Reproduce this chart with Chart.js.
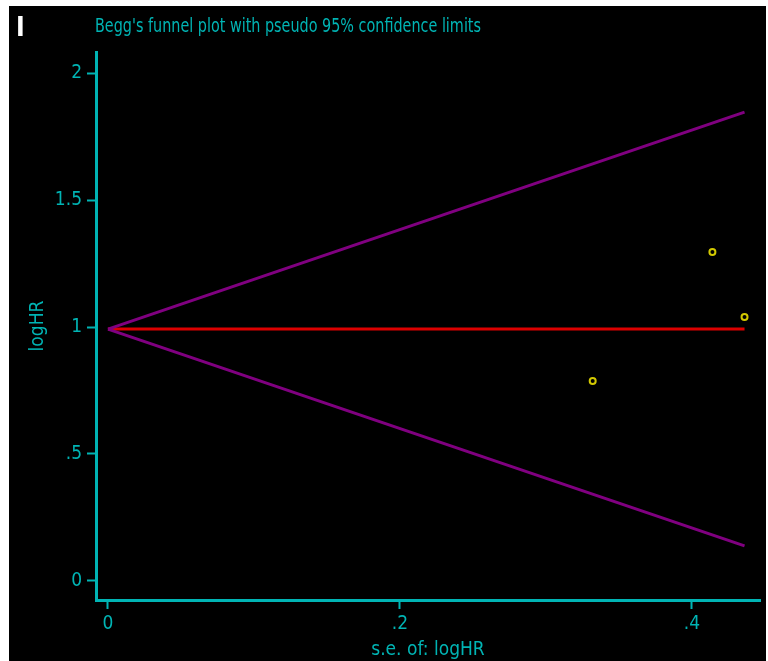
<!DOCTYPE html>
<html>
<head>
<meta charset="utf-8">
<script src="https://cdn.jsdelivr.net/npm/chart.js@4"></script>
<style>
  html, body { margin: 0; padding: 0; background: #fff; }
  #wrap { width: 768px; height: 661px; position: relative; }
</style>
</head>
<body>
<div id="wrap"><canvas id="funnel" width="768" height="661"></canvas></div>
<script>
// Studies: standard error of logHR and logHR
const seValues = [0.332, 0.414, 0.436];
const logHRValues = [0.787, 1.295, 1.039];

// Pooled estimate and pseudo 95% limits (endpoints)
const limitSE = [0, 0.436];
const pooledLine = [0.992, 0.992];
const upperLimit = [0.992, 1.846];
const lowerLimit = [0.992, 0.138];

// Tick labels
const xTickValues = [0, 0.2, 0.4];
const xTickLabels = ['0', '.2', '.4'];
const yTickValues = [0, 0.5, 1, 1.5, 2];
const yTickLabels = ['0', '.5', '1', '1.5', '2'];

const cyan = 'rgb(0,180,180)';
const fontFamily = "'Liberation Sans Narrow', 'DejaVu Sans Condensed', 'Arial Narrow', sans-serif";

const toPoints = (xs, ys) => xs.map((x, i) => ({ x: x, y: ys[i] }));

// Black panel, title and panel letter
const frame = {
    id: 'frame',
    beforeDraw(chart) {
        const ctx = chart.ctx;
        ctx.save();
        ctx.fillStyle = '#fff';
        ctx.fillRect(0, 0, chart.width, chart.height);
        ctx.fillStyle = '#000';
        ctx.fillRect(9, 6, 757, 655);
        ctx.restore();
    },
    afterDraw(chart) {
        const ctx = chart.ctx;
        const title = "Begg's funnel plot with pseudo 95% confidence limits";
        ctx.save();
        ctx.textBaseline = 'alphabetic';
        ctx.fillStyle = cyan;
        ctx.font = '19px ' + fontFamily;
        // squeeze the title to the narrow width of the original
        const w = ctx.measureText(title).width;
        ctx.translate(95, 32);
        ctx.scale(386 / w, 1);
        ctx.fillText(title, 0, 0);
        ctx.restore();

        ctx.save();
        ctx.fillStyle = '#fff';
        ctx.font = 'bold 26px ' + fontFamily;
        ctx.fillText('I', 16, 36);
        ctx.restore();
    }
};

new Chart(document.getElementById('funnel').getContext('2d'), {
    type: 'scatter',
    data: {
        datasets: [
            {
                label: 'upper',
                type: 'line',
                data: toPoints(limitSE, upperLimit),
                borderColor: 'rgb(128,0,128)',
                borderWidth: 3,
                pointRadius: 0
            },
            {
                label: 'lower',
                type: 'line',
                data: toPoints(limitSE, lowerLimit),
                borderColor: 'rgb(128,0,128)',
                borderWidth: 3,
                pointRadius: 0
            },
            {
                label: 'pooled',
                type: 'line',
                data: toPoints(limitSE, pooledLine),
                borderColor: 'rgb(220,0,0)',
                borderWidth: 3,
                pointRadius: 0
            },
            {
                label: 'studies',
                data: toPoints(seValues, logHRValues),
                pointStyle: 'circle',
                pointRadius: 3,
                borderWidth: 2,
                borderColor: 'rgb(210,200,0)',
                backgroundColor: 'rgba(0,0,0,1)'
            }
        ]
    },
    options: {
        responsive: false,
        animation: false,
        layout: { padding: { top: 52, right: 8, left: 0, bottom: 0 } },
        plugins: {
            legend: { display: false },
            tooltip: { enabled: false }
        },
        scales: {
            x: {
                type: 'linear',
                min: -0.0082,
                max: 0.4466,
                afterBuildTicks: (scale) => { scale.ticks = xTickValues.map(v => ({ value: v })); },
                afterFit: (scale) => { scale.height = 61; },
                grid: { drawOnChartArea: false, drawTicks: true, tickLength: 9, tickColor: cyan, tickWidth: 2 },
                border: { display: true, color: cyan, width: 3 },
                ticks: {
                    color: cyan,
                    padding: 4,
                    maxRotation: 0,
                    font: { family: fontFamily, size: 19 },
                    callback: (v) => xTickLabels[xTickValues.indexOf(v)]
                },
                title: {
                    display: true,
                    text: 's.e. of: logHR',
                    color: cyan,
                    padding: { top: 0, bottom: 0 },
                    font: { family: fontFamily, size: 19 }
                }
            },
            y: {
                type: 'linear',
                min: -0.075,
                max: 2.083,
                afterBuildTicks: (scale) => { scale.ticks = yTickValues.map(v => ({ value: v })); },
                afterFit: (scale) => { scale.width = 96; },
                grid: { drawOnChartArea: false, drawTicks: true, tickLength: 9, tickColor: cyan, tickWidth: 2 },
                border: { display: true, color: cyan, width: 3 },
                ticks: {
                    color: cyan,
                    padding: 5,
                    font: { family: fontFamily, size: 19 },
                    callback: (v) => yTickLabels[yTickValues.indexOf(v)]
                },
                title: {
                    display: true,
                    text: 'logHR',
                    color: cyan,
                    padding: { top: 27, bottom: 0 },
                    font: { family: fontFamily, size: 19 }
                }
            }
        }
    },
    plugins: [frame]
});
</script>
</body>
</html>
